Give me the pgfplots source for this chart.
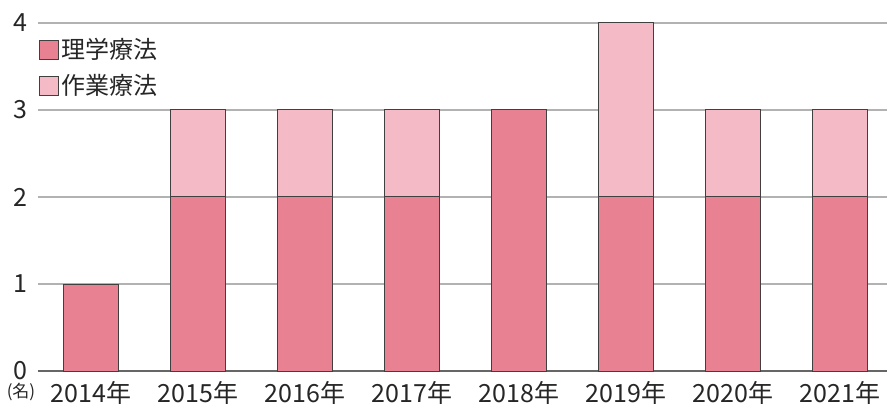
\documentclass[border=0pt]{standalone}
\usepackage{fontspec}
\setmainfont{Noto Sans CJK JP}
\usepackage{pgfplots}
\pgfplotsset{compat=1.18}
\definecolor{ptc}{HTML}{E88293}
\definecolor{otc}{HTML}{F4BAC6}
\pgfplotsset{sqlegend/.style={legend image code/.code={\draw[##1] (0pt,-9.5pt) rectangle (19pt,9.5pt);}}}
\begin{document}
\fontsize{24}{28}\selectfont
\begin{tikzpicture}
\begin{axis}[
  name=main,
  at={(0pt,0pt)}, anchor=south west,
  scale only axis, width=849pt, height=348pt,
  ybar stacked, bar width=0.514,
  xmin=-0.495, xmax=7.44, ymin=0, ymax=4,
  xtick={0,...,7},
  xticklabels={2014年,2015年,2016年,2017年,2018年,2019年,2020年,2021年},
  ytick={0,1,2,3,4},
  separate axis lines,
  axis x line*=bottom, axis y line*=left,
  x axis line style={draw=black!60, line width=1.3pt, -},
  y axis line style={draw=none},
  ymajorgrids,
  grid style={draw=black!30, line width=1.3pt},
  major tick length=0pt,
  tick style={draw=none},
  /pgf/number format/assume math mode=true,
  tick label style={font=\fontsize{25}{28}\selectfont, text=black!85},
  xticklabel style={yshift=-2pt},
  yticklabel style={xshift=-2pt},
  legend style={at={(axis description cs:0,1)}, anchor=north west, xshift=1pt, yshift=-13pt,
    draw=none, fill=none, inner sep=0pt, row sep=8pt,
    font=\fontsize{24}{27}\selectfont, text=black!85},
  legend cell align=left,
]
\addplot[fill=ptc, draw=black!75, line width=1pt, sqlegend]
  coordinates {(0,1) (1,2) (2,2) (3,2) (4,3) (5,2) (6,2) (7,2)};
\addlegendentry{理学療法}
\addplot[fill=otc, draw=black!75, line width=1pt, sqlegend]
  coordinates {(0,0) (1,1) (2,1) (3,1) (4,0) (5,2) (6,1) (7,1)};
\addlegendentry{作業療法}
\end{axis}
\node[font=\fontsize{17}{18}\selectfont, text=black!85] at (-17pt,-21pt) {(名)};
\pgfresetboundingbox
\path (-38pt,-36pt) rectangle (849pt,371pt);
\end{tikzpicture}
\end{document}
